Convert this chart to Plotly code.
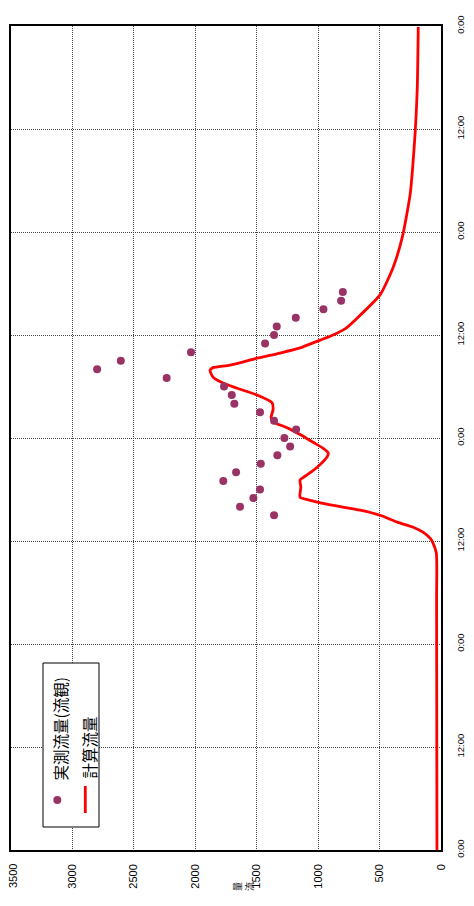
import plotly.graph_objects as go

# Time axis: hours from the start (0 .. 96 h, labels every 12 h)
tick_hours = [0, 12, 24, 36, 48, 60, 72, 84, 96]
tick_labels = ["0:00", "12:00", "0:00", "12:00", "0:00", "12:00", "0:00", "12:00", "0:00"]

# Flow axis ticks
flow_ticks = [0, 500, 1000, 1500, 2000, 2500, 3000, 3500]

# Observed discharge (実測流量(流観)), hourly
obs_hours = [39, 40, 41, 42, 43, 44, 45, 46, 47, 48, 49, 50, 51, 52, 53, 54,
             55, 56, 57, 58, 59, 60, 61, 62, 63, 64, 65]
obs_flow = [1359, 1636, 1527, 1473, 1772, 1668, 1467, 1332, 1228, 1275, 1179,
            1359, 1473, 1682, 1703, 1766, 2233, 2799, 2606, 2035, 1432, 1359,
            1337, 1182, 957, 813, 799]

# Calculated discharge (計算流量)
calc_hours = [0, 29.1, 34.6, 35.7, 36.3, 37.0, 37.6, 38.2, 39.0, 39.6, 40.2,
              40.8, 41.1, 42.3, 43.1, 43.7, 44.6, 45.8, 46.3, 46.8, 47.5,
              48.4, 49.2, 49.9, 50.4, 51.3, 52.1, 53.0, 53.8, 54.4, 55.1, 55.9,
              56.2, 56.5, 57.3, 57.9, 58.5, 59.4, 60.0, 60.9, 62.3, 64.7, 67.9,
              71.4, 76.5, 80.4, 83.9, 88.9, 95.9]
calc_flow = [33, 36, 38, 63, 87, 144, 226, 356, 495, 658, 900,
             1080, 1147, 1141, 1147, 1090, 1008, 927, 919, 959, 1041,
             1147, 1253, 1367, 1383, 1367, 1375, 1497, 1660, 1774, 1856, 1880,
             1856, 1717, 1497, 1310, 1147, 984, 878, 764, 658, 495, 389,
             315, 250, 226, 209, 193, 185]

fig = go.Figure()
fig.add_trace(go.Scatter(
    x=calc_flow, y=calc_hours, mode="lines",
    line=dict(color="#FF0000", width=2.8, shape="spline", smoothing=0.6),
    name="計算流量", showlegend=False))
fig.add_trace(go.Scatter(
    x=obs_flow, y=obs_hours, mode="markers",
    marker=dict(color="#993366", size=8), name="実測流量(流観)", showlegend=False))

grid = dict(showgrid=True, gridcolor="#444444", griddash="1px,1px", gridwidth=1,
            showline=True, linecolor="black", linewidth=1.5, mirror=True,
            zeroline=False, ticks="", automargin=False, ticklabeloverflow="allow")

tick_font_flow = dict(family="Liberation Sans, Arial", size=11, color="black")
# the outermost flow label sits at the page edge: it is drawn as an annotation
flow_text = [("" if v == max(flow_ticks) else str(v)) for v in flow_ticks]

fig.update_xaxes(range=[max(flow_ticks), 0], tickvals=flow_ticks, ticktext=flow_text,
                 tickangle=-90, tickfont=tick_font_flow,
                 ticklabelstandoff=8, **grid)
fig.update_yaxes(range=[0, 96], tickvals=tick_hours, ticktext=tick_labels,
                 side="right", tickangle=-90,
                 tickfont=dict(family="Liberation Sans, Arial", size=9.5, color="black"),
                 ticklabelstandoff=10, **grid)

# page offset (body margin) of the html page
OFF = 8
L, R, T, B = 11, 441, 26, 850          # plot area in page pixels
W, H = 474 - OFF, 906 - OFF


def px(x):
    return (x - L) / (R - L)


def py(y):
    return (B - y) / (B - T)


shapes = [
    dict(type="rect", xref="paper", yref="paper",
         x0=px(43), x1=px(99), y0=py(827), y1=py(663),
         line=dict(color="black", width=1), fillcolor="white", layer="above"),
    dict(type="circle", xref="paper", yref="paper",
         xsizemode="pixel", ysizemode="pixel",
         xanchor=px(57.3), yanchor=py(800),
         x0=-4, x1=4, y0=-4, y1=4,
         line=dict(color="#993366", width=0), fillcolor="#993366", layer="above"),
    dict(type="line", xref="paper", yref="paper",
         x0=px(85.3), x1=px(85.3), y0=py(786), y1=py(813),
         line=dict(color="#FF0000", width=2.8), layer="above"),
]

annotations = [
    dict(text=str(max(flow_ticks)), xref="paper", yref="paper",
         x=px(13), y=py(862), xanchor="center", yanchor="top",
         textangle=-90, showarrow=False, font=tick_font_flow),
    dict(text="実測流量(流観)", xref="paper", yref="paper",
         x=px(59), y=py(783), xanchor="center", yanchor="bottom",
         textangle=-90, showarrow=False,
         font=dict(family="Noto Sans CJK JP", size=15.5, color="black")),
    dict(text="計算流量", xref="paper", yref="paper",
         x=px(88.5), y=py(781), xanchor="center", yanchor="bottom",
         textangle=-90, showarrow=False,
         font=dict(family="Noto Sans CJK JP", size=15.5, color="black")),
    dict(text="量<br>流", xref="paper", yref="paper",
         x=px(244), y=py(887), xanchor="center", yanchor="middle",
         textangle=-90, showarrow=False,
         font=dict(family="Noto Sans CJK JP", size=9, color="black")),
]

fig.update_layout(
    width=W, height=H,
    margin=dict(l=L - OFF, r=(474 - R), t=T - OFF, b=(906 - B), pad=0),
    plot_bgcolor="white", paper_bgcolor="white",
    showlegend=False, shapes=shapes, annotations=annotations,
)

fig.write_html("out.html")
